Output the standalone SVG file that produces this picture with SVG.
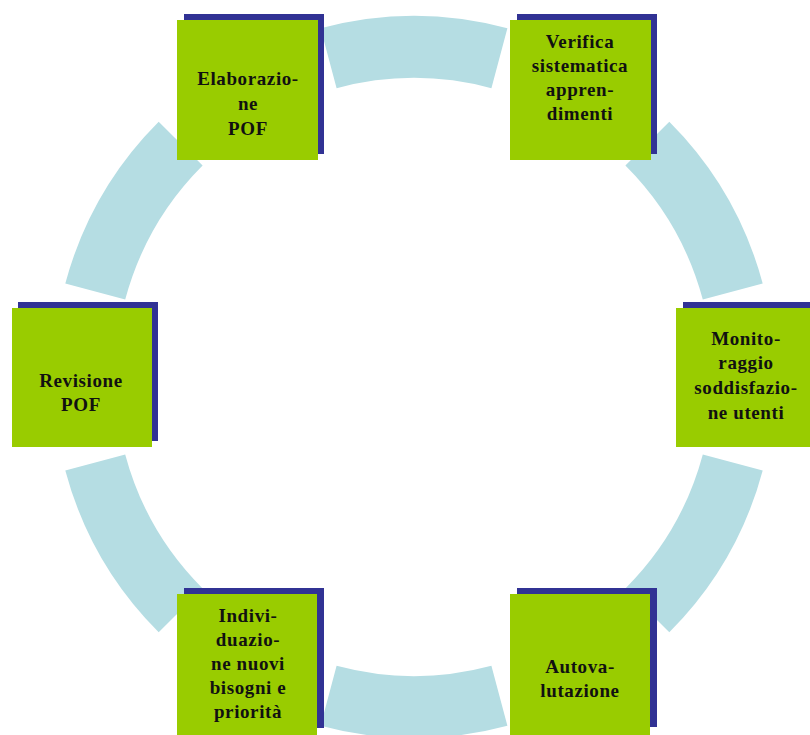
<svg xmlns="http://www.w3.org/2000/svg" width="810" height="735" viewBox="0 0 810 735">
<style>
.arc{fill:#b5dde3;stroke:none}
.sh{fill:#313294}
.bx{fill:#99cc00}
.t{font-family:"Liberation Serif","Times New Roman",serif;font-weight:bold;font-size:19px;letter-spacing:0.6px;fill:#111;text-anchor:middle}
</style>
<rect x="0" y="0" width="810" height="735" fill="#ffffff"/>
<g id="connectors">
<path class="arc" d="M 507.4 28.3 A 361 361 0 0 0 320.6 28.3 L 336.6 88.2 A 299 299 0 0 1 491.4 88.2 Z"/>
<path class="arc" d="M 158.7 121.7 A 361 361 0 0 0 65.3 283.6 L 125.2 299.6 A 299 299 0 0 1 202.6 165.6 Z"/>
<path class="arc" d="M 65.3 470.4 A 361 361 0 0 0 158.7 632.3 L 202.6 588.4 A 299 299 0 0 1 125.2 454.4 Z"/>
<path class="arc" d="M 320.6 725.7 A 361 361 0 0 0 507.4 725.7 L 491.4 665.8 A 299 299 0 0 1 336.6 665.8 Z"/>
<path class="arc" d="M 669.3 632.3 A 361 361 0 0 0 762.7 470.4 L 702.8 454.4 A 299 299 0 0 1 625.4 588.4 Z"/>
<path class="arc" d="M 762.7 283.6 A 361 361 0 0 0 669.3 121.7 L 625.4 165.6 A 299 299 0 0 1 702.8 299.6 Z"/>
</g>
<g id="elaborazione">
<rect class="sh" x="184" y="14" width="140" height="140"/>
<rect class="bx" x="177" y="20" width="141" height="140"/>
<text class="t" x="248" y="85">Elaborazio-</text>
<text class="t" x="248" y="110">ne</text>
<text class="t" x="248" y="135">POF</text>
</g>
<g id="verifica">
<rect class="sh" x="517" y="14" width="140" height="140"/>
<rect class="bx" x="510" y="20" width="141" height="140"/>
<text class="t" x="580" y="48">Verifica</text>
<text class="t" x="580" y="72">sistematica</text>
<text class="t" x="580" y="96">appren-</text>
<text class="t" x="580" y="120">dimenti</text>
</g>
<g id="revisione">
<rect class="sh" x="18" y="302" width="140" height="139"/>
<rect class="bx" x="12" y="308" width="140" height="139"/>
<text class="t" x="81" y="387">Revisione</text>
<text class="t" x="81" y="411">POF</text>
</g>
<g id="monitoraggio">
<rect class="sh" x="683" y="302" width="140" height="139"/>
<rect class="bx" x="676" y="308" width="140" height="139"/>
<text class="t" x="746" y="345">Monito-</text>
<text class="t" x="746" y="369">raggio</text>
<text class="t" x="746" y="394">soddisfazio-</text>
<text class="t" x="746" y="419">ne utenti</text>
</g>
<g id="individuazione">
<rect class="sh" x="184" y="588" width="140" height="140"/>
<rect class="bx" x="177" y="594" width="140" height="145"/>
<text class="t" x="248" y="622">Indivi-</text>
<text class="t" x="248" y="646">duazio-</text>
<text class="t" x="248" y="670">ne nuovi</text>
<text class="t" x="248" y="694">bisogni e</text>
<text class="t" x="248" y="718">priorità</text>
</g>
<g id="autovalutazione">
<rect class="sh" x="517" y="588" width="140" height="139"/>
<rect class="bx" x="510" y="594" width="140" height="145"/>
<text class="t" x="580" y="673">Autova-</text>
<text class="t" x="580" y="697">lutazione</text>
</g>
</svg>
